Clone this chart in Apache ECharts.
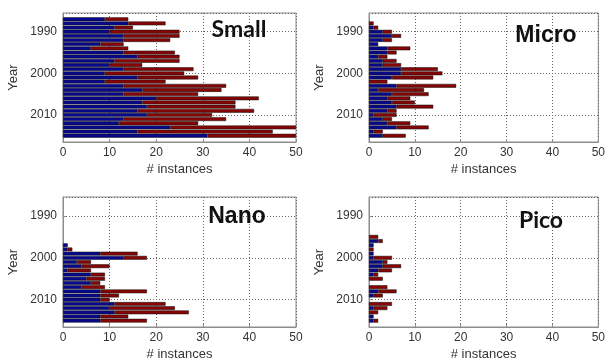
<!DOCTYPE html>
<html>
<head>
<meta charset="utf-8">
<script src="https://cdn.jsdelivr.net/npm/echarts@6/dist/echarts.min.js"></script>
<style>html,body{margin:0;padding:0;background:#fff}#c{width:608px;height:362px}</style>
</head>
<body>
<div id="c"></div>
<script>
// ---- data ----
const panelNames = ['Small', 'Micro', 'Nano', 'Pico'];
const xTicks = [0, 10, 20, 30, 40, 50];
const yearTicks = [1990, 2000, 2010];

const smallStart = 1987;
const smallBlue  = [9,14,11,10,13,13,8,6,13,16,11,10,13,9,16,9,13,17,13,20,17,18,16,18,13,12,23,16,31];
const smallTotal = [14,22,15,25,25,23,13,14,24,25,25,17,28,26,29,22,35,34,29,42,37,37,41,32,35,29,50,45,50];

const microStart = 1988;
const microBlue  = [0,1,3,5,3,2,4,4,2,3,3,7,7,5,0,6,2,5,4,5,6,4,1,3,4,6,1,3];
const microTotal = [1,2,5,7,5,2,9,6,4,6,7,15,16,14,4,19,12,13,9,10,14,6,6,5,9,13,3,8];

const nanoStart = 1997;
const nanoBlue  = [1,1,8,13,3,4,1,6,5,6,4,8,8,8,11,10,11,8,8];
const nanoTotal = [1,2,16,18,6,10,6,9,9,8,9,18,12,10,22,24,27,14,18];

const picoStart = 1995;
const picoBlue  = [0,2,1,0,1,1,3,3,2,1,0,0,0,2,1,0,0,1,0,1,1];
const picoTotal = [2,3,1,1,1,5,4,7,5,2,3,0,4,6,3,0,5,4,2,1,2];

// ---- chart ----
const yearCats = [];
for (let y = 1986; y <= 2016; y++) yearCats.push(String(y));

const panels = [
  {start: smallStart, blue: smallBlue, total: smallTotal},
  {start: microStart, blue: microBlue, total: microTotal},
  {start: nanoStart, blue: nanoBlue, total: nanoTotal},
  {start: picoStart, blue: picoBlue, total: picoTotal}
];

const grids = [
  {left: 63, top: 13, width: 233, height: 129},
  {left: 369, top: 13, width: 233, height: 129},
  {left: 63, top: 197, width: 233, height: 130},
  {left: 369, top: 197, width: 233, height: 130}
];

const FONT = 'Liberation Sans';
const TXT = '#333';
const FRAME = '#8c8c8c';
const BLUE = '#08088c';
const RED = '#860404';

const xAxes = [], yAxes = [], series = [];
grids.forEach((g, k) => {
  xAxes.push({
    gridIndex: k, type: 'value', min: 0, max: 50, interval: 10, position: 'bottom',
    name: '# instances', nameLocation: 'middle', nameGap: 21,
    nameTextStyle: {fontFamily: FONT, fontSize: 13, color: TXT},
    axisLine: {onZero: false, lineStyle: {color: FRAME}},
    axisTick: {inside: true, length: 3, lineStyle: {color: FRAME}},
    axisLabel: {fontFamily: FONT, fontSize: 12, color: TXT, margin: 5,
      formatter: v => xTicks.indexOf(v) >= 0 ? String(v) : ''},
    splitLine: {show: true, lineStyle: {color: '#666', type: [1, 2], width: 1}}
  });
  // hidden category axis carrying the bars
  yAxes.push({
    gridIndex: k, type: 'category', data: yearCats, inverse: true, show: false, position: 'left'
  });
  // visible year axis
  yAxes.push({
    gridIndex: k, type: 'value', min: 1985.5, max: 2016.5, inverse: true, position: 'left',
    minInterval: 10, maxInterval: 10,
    name: 'Year', nameLocation: 'middle', nameGap: 43,
    nameTextStyle: {fontFamily: FONT, fontSize: 13, color: TXT},
    axisLine: {show: true, onZero: false, lineStyle: {color: FRAME}},
    axisTick: {inside: true, length: 3, lineStyle: {color: FRAME}},
    axisLabel: {fontFamily: FONT, fontSize: 12, color: TXT, margin: 6,
      showMinLabel: false, showMaxLabel: false,
      formatter: v => yearTicks.indexOf(v) >= 0 ? String(v) : ''},
    splitLine: {show: true, lineStyle: {color: '#666', type: [1, 2], width: 1}}
  });
  const p = panels[k];
  const blueData = p.blue.map((v, i) => [v === 0 ? null : v, String(p.start + i)]);
  const redData = p.total.map((t, i) => {
    const r = t - p.blue[i];
    return [r === 0 ? null : r, String(p.start + i)];
  });
  const common = {
    type: 'bar', xAxisIndex: k, yAxisIndex: 2 * k, stack: 'p' + k,
    barWidth: 3.8, silent: true, animation: false
  };
  series.push(Object.assign({}, common, {
    name: panelNames[k] + ' blue', data: blueData,
    itemStyle: {color: BLUE, borderColor: '#111', borderWidth: 0.5}
  }));
  series.push(Object.assign({}, common, {
    name: panelNames[k] + ' red', data: redData,
    itemStyle: {color: RED, borderColor: '#111', borderWidth: 0.5}
  }));
});

const titlePos = [
  {x: 239, y: 30, font: 'Lato'},
  {x: 546, y: 36, font: FONT},
  {x: 237, y: 217, font: FONT},
  {x: 541, y: 221, font: 'Lato'}
];

const option = {
  backgroundColor: '#fff',
  animation: false,
  grid: grids.map(g => Object.assign({show: true, borderColor: FRAME, borderWidth: 1, backgroundColor: 'transparent'}, g)),
  xAxis: xAxes,
  yAxis: yAxes,
  series: series,
  graphic: titlePos.map((t, k) => ({
    type: 'text', x: t.x, y: t.y, z: 100,
    style: {text: panelNames[k], fontFamily: t.font, fontWeight: 'bold', fontSize: 23,
      fill: '#111', align: 'center', verticalAlign: 'middle'}
  }))
};

const chart = echarts.init(document.getElementById('c'), null, {renderer: 'canvas'});
chart.setOption(option);
</script>
</body>
</html>
